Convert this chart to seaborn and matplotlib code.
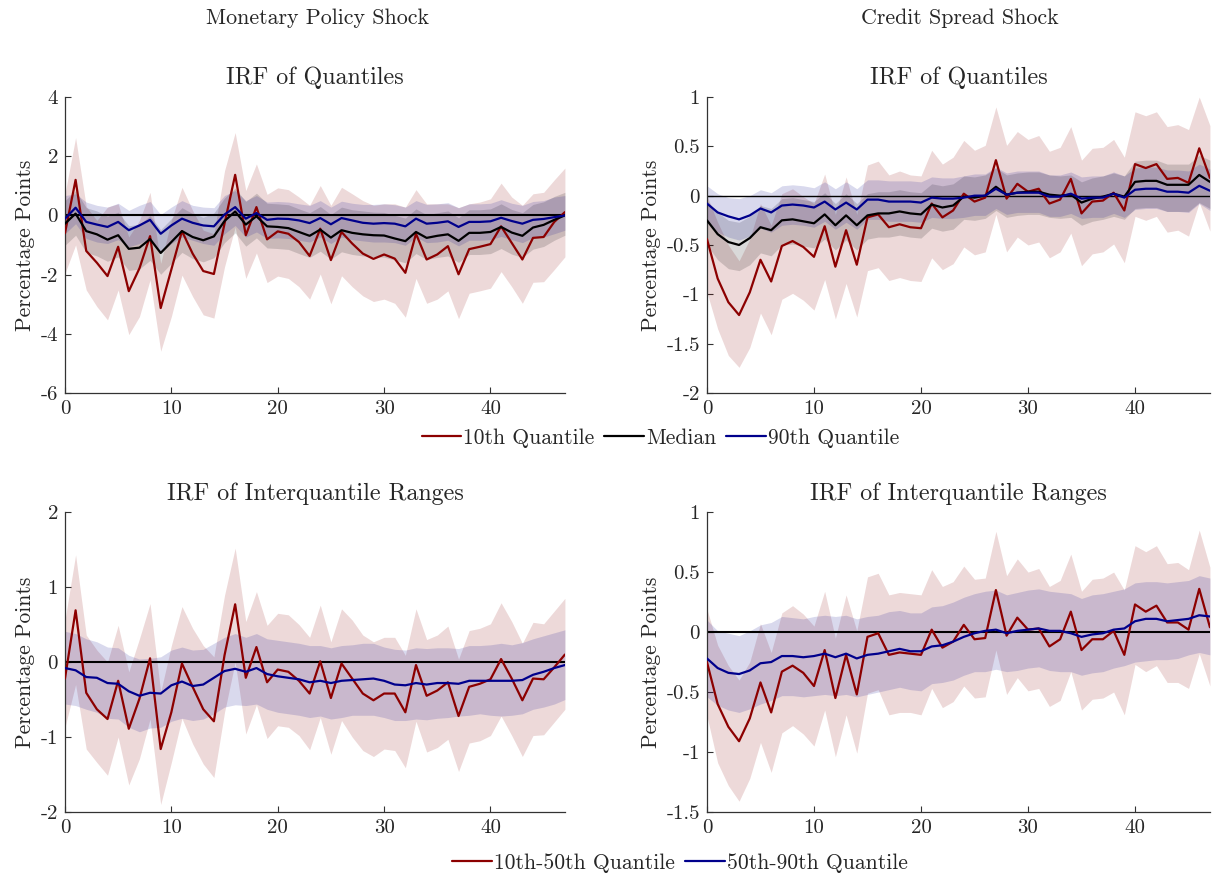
import numpy as np
import matplotlib
matplotlib.use("Agg")
import matplotlib.pyplot as plt
from matplotlib.ticker import FuncFormatter
import seaborn as sns

horizon = np.arange(48)

# --- Monetary policy shock: IRF of quantiles ---
mp_q10 = [-0.6, 1.2, -1.2, -1.6, -2.05, -1.06, -2.56, -1.79, -0.7, -3.13, -1.83, -0.53, -1.29, -1.88, -1.98, -0.28,
          1.37, -0.67, 0.28, -0.81, -0.54, -0.62, -0.9, -1.37, -0.45, -1.51, -0.56, -0.95, -1.29, -1.47, -1.32, -1.46,
          -1.94, -0.62, -1.49, -1.32, -1.04, -1.99, -1.14, -1.06, -0.97, -0.37, -0.93, -1.49, -0.76, -0.73, -0.22, 0.11]
mp_q10_hi = [0.73, 2.63, 0.3, -0.17, 0.28, 0.39, -0.73, -0.17, 0.78, -1.62, -0.17, 0.95, 0.17, -0.5, -0.62, 1.51,
             2.8, 0.84, 1.74, 0.71, 0.93, 0.87, 0.62, 0.34, 1.01, 0.34, 0.95, 0.73, 0.5, 0.34, 0.39, 0.39,
             0.28, 0.87, 0.39, 0.39, 0.39, 0.26, 0.39, 0.45, 0.56, 1.09, 0.62, 0.34, 0.73, 0.78, 1.2, 1.6]
mp_q10_lo = [-1.96, -1.0, -2.52, -3.08, -3.53, -2.52, -4.03, -3.42, -2.18, -4.59, -3.42, -2.02, -2.74, -3.36, -3.47, -1.74,
             -0.39, -2.13, -1.27, -2.27, -2.05, -2.13, -2.41, -2.83, -1.98, -2.99, -2.04, -2.41, -2.72, -2.91, -2.83, -2.97,
             -3.44, -2.13, -2.97, -2.83, -2.55, -3.49, -2.63, -2.55, -2.46, -1.9, -2.41, -2.97, -2.26, -2.24, -1.83, -1.4]
mp_med = [-0.28, 0.06, -0.53, -0.64, -0.82, -0.67, -1.13, -1.09, -0.8, -1.27, -0.9, -0.53, -0.73, -0.84, -0.71, -0.19,
          0.13, -0.31, -0.03, -0.37, -0.39, -0.43, -0.56, -0.69, -0.48, -0.75, -0.5, -0.59, -0.64, -0.67, -0.68, -0.78,
          -0.87, -0.56, -0.76, -0.69, -0.64, -0.86, -0.59, -0.59, -0.56, -0.39, -0.58, -0.69, -0.41, -0.32, -0.15, 0.0]
mp_med_hi = [0.5, 0.84, 0.26, 0.15, -0.03, 0.11, -0.35, -0.3, -0.01, -0.48, -0.11, 0.26, 0.06, -0.06, 0.08, 0.59,
             0.92, 0.47, 0.75, 0.41, 0.39, 0.36, 0.22, 0.09, 0.3, 0.03, 0.28, 0.19, 0.15, 0.11, 0.1, 0.0,
             -0.09, 0.22, 0.02, 0.09, 0.15, -0.08, 0.19, 0.19, 0.22, 0.39, 0.2, 0.09, 0.37, 0.46, 0.64, 0.78]
mp_med_lo = [-1.01, -0.67, -1.25, -1.37, -1.55, -1.4, -1.86, -1.81, -1.52, -1.99, -1.62, -1.25, -1.46, -1.57, -1.43, -0.92,
             -0.59, -1.04, -0.76, -1.1, -1.12, -1.15, -1.29, -1.42, -1.21, -1.48, -1.23, -1.32, -1.37, -1.4, -1.41, -1.51,
             -1.6, -1.29, -1.49, -1.42, -1.37, -1.59, -1.32, -1.32, -1.29, -1.12, -1.31, -1.42, -1.14, -1.05, -0.84, -0.67]
mp_q90 = [-0.11, 0.26, -0.22, -0.31, -0.39, -0.22, -0.5, -0.34, -0.15, -0.62, -0.34, -0.11, -0.25, -0.34, -0.37, 0.03,
          0.28, -0.11, 0.08, -0.15, -0.11, -0.12, -0.17, -0.26, -0.09, -0.3, -0.09, -0.17, -0.25, -0.28, -0.26, -0.28,
          -0.37, -0.11, -0.28, -0.25, -0.2, -0.39, -0.22, -0.22, -0.2, -0.08, -0.19, -0.28, -0.15, -0.12, -0.06, 0.0]
mp_q90_hi = [0.67, 0.73, 0.45, 0.34, 0.28, 0.41, 0.17, 0.34, 0.47, 0.03, 0.28, 0.5, 0.34, 0.28, 0.26, 0.67,
             0.84, 0.5, 0.67, 0.45, 0.47, 0.45, 0.39, 0.34, 0.5, 0.28, 0.48, 0.41, 0.37, 0.37, 0.39, 0.36,
             0.28, 0.5, 0.37, 0.39, 0.43, 0.26, 0.39, 0.39, 0.41, 0.53, 0.41, 0.34, 0.47, 0.5, 0.62, 0.67]
mp_q90_lo = [-0.62, -0.28, -0.78, -0.9, -0.95, -0.82, -1.06, -0.95, -0.78, -1.27, -0.95, -0.73, -0.84, -0.95, -1.01, -0.62,
             -0.34, -0.73, -0.56, -0.78, -0.76, -0.78, -0.84, -0.9, -0.73, -0.95, -0.73, -0.82, -0.86, -0.9, -0.9, -0.92,
             -1.01, -0.73, -0.92, -0.9, -0.84, -1.03, -0.84, -0.84, -0.82, -0.71, -0.82, -0.92, -0.75, -0.73, -0.62, -0.5]

# --- Credit spread shock: IRF of quantiles ---
cs_q10 = [-0.44, -0.84, -1.08, -1.21, -0.98, -0.65, -0.87, -0.51, -0.46, -0.52, -0.62, -0.31, -0.72, -0.35, -0.7, -0.22,
          -0.19, -0.32, -0.29, -0.32, -0.33, -0.08, -0.22, -0.15, 0.02, -0.06, -0.02, 0.36, -0.03, 0.12, 0.04, 0.07,
          -0.08, -0.04, 0.17, -0.18, -0.06, -0.05, 0.03, -0.15, 0.32, 0.28, 0.32, 0.17, 0.18, 0.13, 0.48, 0.18]
cs_q10_hi = [0.0, -0.27, -0.5, -0.66, -0.44, -0.08, -0.3, 0.02, 0.07, -0.01, -0.08, 0.22, -0.19, 0.19, -0.19, 0.31,
             0.35, 0.21, 0.25, 0.21, 0.2, 0.46, 0.32, 0.39, 0.56, 0.46, 0.51, 0.9, 0.51, 0.65, 0.57, 0.61,
             0.45, 0.49, 0.7, 0.36, 0.48, 0.49, 0.57, 0.39, 0.85, 0.81, 0.85, 0.7, 0.72, 0.67, 1.0, 0.71]
cs_q10_lo = [-0.98, -1.35, -1.62, -1.74, -1.54, -1.19, -1.41, -1.05, -0.99, -1.06, -1.16, -0.85, -1.25, -0.89, -1.23, -0.76,
             -0.73, -0.86, -0.83, -0.86, -0.87, -0.63, -0.75, -0.69, -0.52, -0.6, -0.57, -0.19, -0.57, -0.42, -0.5, -0.47,
             -0.63, -0.57, -0.38, -0.71, -0.59, -0.57, -0.49, -0.68, -0.21, -0.25, -0.21, -0.37, -0.35, -0.41, -0.07, -0.36]
cs_med = [-0.25, -0.39, -0.47, -0.5, -0.43, -0.32, -0.35, -0.25, -0.24, -0.26, -0.28, -0.19, -0.3, -0.2, -0.3, -0.2,
          -0.18, -0.18, -0.16, -0.18, -0.19, -0.09, -0.12, -0.1, -0.01, -0.02, 0.0, 0.09, 0.01, 0.03, 0.04, 0.04,
          0.01, 0.0, 0.01, -0.07, -0.03, -0.01, 0.02, -0.01, 0.14, 0.15, 0.15, 0.11, 0.11, 0.11, 0.21, 0.14]
cs_med_hi = [-0.05, -0.17, -0.25, -0.27, -0.21, -0.1, -0.13, -0.03, -0.02, -0.04, -0.06, 0.03, -0.08, 0.02, -0.08, 0.02,
             0.04, 0.04, 0.06, 0.04, 0.03, 0.12, 0.1, 0.12, 0.2, 0.19, 0.21, 0.28, 0.21, 0.23, 0.24, 0.24,
             0.21, 0.2, 0.21, 0.14, 0.18, 0.2, 0.23, 0.2, 0.35, 0.36, 0.36, 0.32, 0.32, 0.32, 0.41, 0.36]
cs_med_lo = [-0.5, -0.65, -0.74, -0.76, -0.7, -0.58, -0.61, -0.5, -0.49, -0.51, -0.53, -0.44, -0.55, -0.45, -0.55, -0.44,
             -0.42, -0.42, -0.4, -0.42, -0.43, -0.33, -0.36, -0.34, -0.24, -0.25, -0.23, -0.15, -0.22, -0.2, -0.19, -0.19,
             -0.22, -0.23, -0.22, -0.3, -0.26, -0.24, -0.21, -0.24, -0.13, -0.12, -0.12, -0.16, -0.16, -0.16, -0.07, -0.13]
cs_q90 = [-0.08, -0.17, -0.21, -0.24, -0.2, -0.13, -0.17, -0.1, -0.09, -0.1, -0.12, -0.06, -0.14, -0.07, -0.14, -0.04,
          -0.04, -0.06, -0.06, -0.06, -0.07, -0.02, -0.03, -0.03, -0.02, 0.0, 0.0, 0.07, 0.01, 0.03, 0.03, 0.03,
          -0.01, -0.01, 0.02, -0.03, -0.02, -0.02, 0.02, -0.02, 0.06, 0.07, 0.07, 0.04, 0.04, 0.03, 0.1, 0.05]
cs_q90_hi = [0.1, 0.02, -0.02, -0.03, 0.0, 0.06, 0.03, 0.1, 0.11, 0.1, 0.08, 0.14, 0.07, 0.14, 0.07, 0.16,
             0.16, 0.15, 0.15, 0.15, 0.14, 0.19, 0.18, 0.18, 0.2, 0.22, 0.22, 0.29, 0.23, 0.25, 0.25, 0.25,
             0.21, 0.21, 0.24, 0.19, 0.2, 0.2, 0.24, 0.2, 0.28, 0.29, 0.29, 0.26, 0.26, 0.25, 0.32, 0.27]
cs_q90_lo = [-0.27, -0.37, -0.42, -0.45, -0.41, -0.33, -0.37, -0.3, -0.29, -0.3, -0.32, -0.26, -0.34, -0.27, -0.34, -0.24,
             -0.24, -0.26, -0.26, -0.26, -0.27, -0.22, -0.23, -0.23, -0.22, -0.2, -0.2, -0.13, -0.19, -0.17, -0.17, -0.17,
             -0.21, -0.21, -0.18, -0.23, -0.22, -0.22, -0.18, -0.22, -0.14, -0.13, -0.13, -0.16, -0.16, -0.17, -0.08, -0.15]

# --- Monetary policy shock: IRF of interquantile ranges ---
mp_r1050 = [-0.22, 0.69, -0.41, -0.63, -0.76, -0.25, -0.89, -0.49, 0.05, -1.16, -0.67, -0.02, -0.33, -0.63, -0.79, 0.09,
            0.77, -0.21, 0.2, -0.27, -0.1, -0.13, -0.25, -0.42, 0.01, -0.48, -0.02, -0.22, -0.42, -0.51, -0.42, -0.42,
            -0.67, -0.04, -0.45, -0.38, -0.27, -0.72, -0.33, -0.29, -0.23, 0.04, -0.22, -0.51, -0.22, -0.23, -0.07, 0.1]
mp_r1050_hi = [0.56, 1.43, 0.36, 0.16, 0.0, 0.49, -0.13, 0.31, 0.78, -0.4, 0.22, 0.74, 0.45, 0.22, 0.07, 0.89,
               1.52, 0.54, 0.94, 0.49, 0.65, 0.63, 0.5, 0.33, 0.76, 0.27, 0.71, 0.56, 0.36, 0.27, 0.33, 0.33,
               0.09, 0.71, 0.3, 0.36, 0.48, 0.04, 0.42, 0.45, 0.51, 0.79, 0.54, 0.25, 0.53, 0.51, 0.68, 0.85]
mp_r1050_lo = [-0.87, -0.3, -1.16, -1.34, -1.51, -1.0, -1.64, -1.29, -0.76, -1.9, -1.34, -0.75, -1.09, -1.36, -1.54, -0.67,
               0.0, -0.96, -0.57, -1.02, -0.85, -0.87, -0.98, -1.17, -0.74, -1.23, -0.78, -1.0, -1.18, -1.26, -1.16, -1.18,
               -1.41, -0.79, -1.2, -1.14, -1.03, -1.46, -1.08, -1.05, -0.98, -0.72, -0.98, -1.26, -0.98, -0.97, -0.8, -0.63]
mp_r5090 = [-0.08, -0.11, -0.2, -0.21, -0.28, -0.29, -0.39, -0.45, -0.41, -0.42, -0.31, -0.26, -0.32, -0.3, -0.21, -0.12,
            -0.09, -0.13, -0.08, -0.16, -0.19, -0.21, -0.23, -0.27, -0.25, -0.28, -0.25, -0.24, -0.23, -0.22, -0.25, -0.3,
            -0.31, -0.28, -0.3, -0.28, -0.28, -0.29, -0.25, -0.25, -0.25, -0.25, -0.25, -0.24, -0.17, -0.13, -0.08, -0.04]
mp_r5090_hi = [0.41, 0.38, 0.31, 0.27, 0.2, 0.19, 0.09, 0.04, 0.05, 0.07, 0.16, 0.2, 0.16, 0.17, 0.25, 0.33,
               0.38, 0.33, 0.38, 0.31, 0.29, 0.27, 0.25, 0.22, 0.22, 0.19, 0.22, 0.23, 0.25, 0.25, 0.2, 0.17,
               0.16, 0.19, 0.18, 0.19, 0.19, 0.18, 0.22, 0.22, 0.23, 0.25, 0.23, 0.26, 0.31, 0.35, 0.39, 0.43]
mp_r5090_lo = [-0.56, -0.58, -0.63, -0.67, -0.75, -0.76, -0.87, -0.93, -0.88, -0.87, -0.79, -0.75, -0.78, -0.76, -0.69, -0.6,
               -0.57, -0.58, -0.56, -0.63, -0.67, -0.69, -0.71, -0.74, -0.72, -0.76, -0.74, -0.71, -0.71, -0.71, -0.74, -0.78,
               -0.78, -0.76, -0.77, -0.75, -0.74, -0.72, -0.71, -0.69, -0.71, -0.72, -0.71, -0.69, -0.63, -0.6, -0.56, -0.5]

# --- Credit spread shock: IRF of interquantile ranges ---
cs_r1050 = [-0.25, -0.6, -0.79, -0.91, -0.72, -0.42, -0.67, -0.33, -0.28, -0.34, -0.45, -0.15, -0.55, -0.19, -0.52, -0.04,
            -0.01, -0.19, -0.17, -0.18, -0.19, 0.02, -0.13, -0.08, 0.06, -0.06, -0.05, 0.35, -0.03, 0.12, 0.02, 0.03,
            -0.12, -0.06, 0.17, -0.15, -0.06, -0.06, 0.01, -0.19, 0.23, 0.17, 0.22, 0.08, 0.08, 0.02, 0.36, 0.04]
cs_r1050_hi = [0.19, -0.11, -0.28, -0.4, -0.25, 0.07, -0.17, 0.16, 0.22, 0.15, 0.05, 0.34, -0.05, 0.31, 0.01, 0.46,
               0.49, 0.31, 0.33, 0.32, 0.31, 0.52, 0.38, 0.42, 0.55, 0.44, 0.45, 0.84, 0.47, 0.61, 0.5, 0.53,
               0.38, 0.43, 0.65, 0.34, 0.44, 0.45, 0.5, 0.35, 0.72, 0.67, 0.72, 0.57, 0.58, 0.52, 0.85, 0.54]
cs_r1050_lo = [-0.7, -1.09, -1.28, -1.41, -1.22, -0.92, -1.17, -0.84, -0.78, -0.85, -0.95, -0.65, -1.04, -0.69, -1.01, -0.51,
               -0.48, -0.69, -0.67, -0.67, -0.69, -0.47, -0.63, -0.58, -0.45, -0.55, -0.54, -0.15, -0.52, -0.38, -0.49, -0.47,
               -0.62, -0.57, -0.33, -0.65, -0.56, -0.55, -0.5, -0.69, -0.27, -0.33, -0.28, -0.42, -0.42, -0.47, -0.18, -0.45]
cs_r5090 = [-0.22, -0.3, -0.34, -0.35, -0.32, -0.26, -0.25, -0.2, -0.2, -0.21, -0.2, -0.18, -0.21, -0.18, -0.22, -0.19,
            -0.18, -0.16, -0.14, -0.16, -0.16, -0.12, -0.11, -0.08, -0.04, -0.01, 0.01, 0.02, -0.01, 0.01, 0.02, 0.03,
            0.01, 0.01, -0.01, -0.04, -0.02, -0.01, 0.02, 0.03, 0.09, 0.11, 0.11, 0.09, 0.1, 0.11, 0.14, 0.13]
cs_r5090_hi = [0.1, 0.01, -0.01, -0.03, 0.01, 0.06, 0.08, 0.13, 0.12, 0.11, 0.13, 0.14, 0.13, 0.14, 0.11, 0.13,
               0.14, 0.17, 0.18, 0.16, 0.16, 0.21, 0.22, 0.25, 0.29, 0.32, 0.34, 0.35, 0.31, 0.33, 0.35, 0.36,
               0.34, 0.33, 0.32, 0.28, 0.31, 0.32, 0.34, 0.36, 0.41, 0.42, 0.42, 0.41, 0.42, 0.43, 0.47, 0.45]
cs_r5090_lo = [-0.54, -0.61, -0.65, -0.67, -0.64, -0.6, -0.57, -0.53, -0.53, -0.54, -0.53, -0.52, -0.53, -0.52, -0.54, -0.52,
               -0.5, -0.48, -0.46, -0.48, -0.49, -0.43, -0.42, -0.4, -0.36, -0.33, -0.33, -0.31, -0.33, -0.32, -0.3, -0.29,
               -0.32, -0.33, -0.33, -0.36, -0.34, -0.33, -0.3, -0.28, -0.25, -0.24, -0.23, -0.23, -0.22, -0.19, -0.17, -0.19]

RED = "#8c0000"
BLACK = "#000000"
BLUE = "#00008c"

sns.set_style("ticks")
plt.rcParams["font.family"] = ["cmr10", "DejaVu Serif"]
plt.rcParams["axes.unicode_minus"] = False
plt.rcParams["mathtext.fontset"] = "cm"


def draw_panel(ax, series, ylim, yticks, title, zero_lw=1.5):
    # bands first, then lines on top
    for mid, lo, hi, color in series:
        ax.fill_between(horizon, lo, hi, color=color, alpha=0.15, linewidth=0)
    ax.axhline(0, color="k", linewidth=zero_lw, zorder=2)
    for mid, lo, hi, color in series:
        sns.lineplot(x=horizon, y=mid, color=color, linewidth=1.6, ax=ax, zorder=3)
    ax.set_xlim(0, 47)
    ax.set_ylim(*ylim)
    ax.set_xticks([0, 10, 20, 30, 40])
    ax.set_yticks(yticks)
    ax.yaxis.set_major_formatter(FuncFormatter(lambda v, p: "%g" % v))
    ax.set_title(title, fontsize=17.3, pad=9)
    ax.set_ylabel("Percentage Points", fontsize=15.5, labelpad=4)
    ax.tick_params(direction="in", length=4, labelsize=15, pad=5, color="#333333")
    for s in ["top", "right"]:
        ax.spines[s].set_visible(False)
    for s in ["left", "bottom"]:
        ax.spines[s].set_color("#333333")
        ax.spines[s].set_linewidth(0.9)


fig = plt.figure(figsize=(12.12, 8.77), dpi=100)
ax1 = fig.add_axes([0.0536, 0.5519, 0.4125, 0.3375])
ax2 = fig.add_axes([0.5833, 0.5519, 0.415, 0.3375])
ax3 = fig.add_axes([0.0536, 0.0741, 0.4125, 0.342])
ax4 = fig.add_axes([0.5833, 0.0741, 0.415, 0.342])

draw_panel(ax1, [(mp_q10, mp_q10_lo, mp_q10_hi, RED),
                 (mp_med, mp_med_lo, mp_med_hi, BLACK),
                 (mp_q90, mp_q90_lo, mp_q90_hi, BLUE)],
           (-6, 4), [-6, -4, -2, 0, 2, 4], "IRF of Quantiles")
draw_panel(ax2, [(cs_q10, cs_q10_lo, cs_q10_hi, RED),
                 (cs_med, cs_med_lo, cs_med_hi, BLACK),
                 (cs_q90, cs_q90_lo, cs_q90_hi, BLUE)],
           (-2, 1), [-2, -1.5, -1, -0.5, 0, 0.5, 1], "IRF of Quantiles", zero_lw=1.0)
draw_panel(ax3, [(mp_r1050, mp_r1050_lo, mp_r1050_hi, RED),
                 (mp_r5090, mp_r5090_lo, mp_r5090_hi, BLUE)],
           (-2, 2), [-2, -1, 0, 1, 2], "IRF of Interquantile Ranges")
draw_panel(ax4, [(cs_r1050, cs_r1050_lo, cs_r1050_hi, RED),
                 (cs_r5090, cs_r5090_lo, cs_r5090_hi, BLUE)],
           (-1.5, 1), [-1.5, -1, -0.5, 0, 0.5, 1], "IRF of Interquantile Ranges")

fig.text(0.262, 0.979, "Monetary Policy Shock", ha="center", va="center", fontsize=15.8)
fig.text(0.792, 0.979, "Credit Spread Shock", ha="center", va="center", fontsize=15.8)

top_handles = [plt.Line2D([], [], color=c, linewidth=1.6) for c in (RED, BLACK, BLUE)]
fig.legend(top_handles, ["10th Quantile", "Median", "90th Quantile"], loc="center",
           bbox_to_anchor=(0.545, 0.5006), ncol=3, frameon=False, fontsize=15.5,
           handlelength=1.85, handletextpad=0.1, columnspacing=0.45)
bot_handles = [plt.Line2D([], [], color=c, linewidth=1.6) for c in (RED, BLUE)]
fig.legend(bot_handles, ["10th-50th Quantile", "50th-90th Quantile"], loc="center",
           bbox_to_anchor=(0.561, 0.016), ncol=2, frameon=False, fontsize=15.5,
           handlelength=1.85, handletextpad=0.1, columnspacing=0.45)

fig.savefig("out.png", dpi=100)
